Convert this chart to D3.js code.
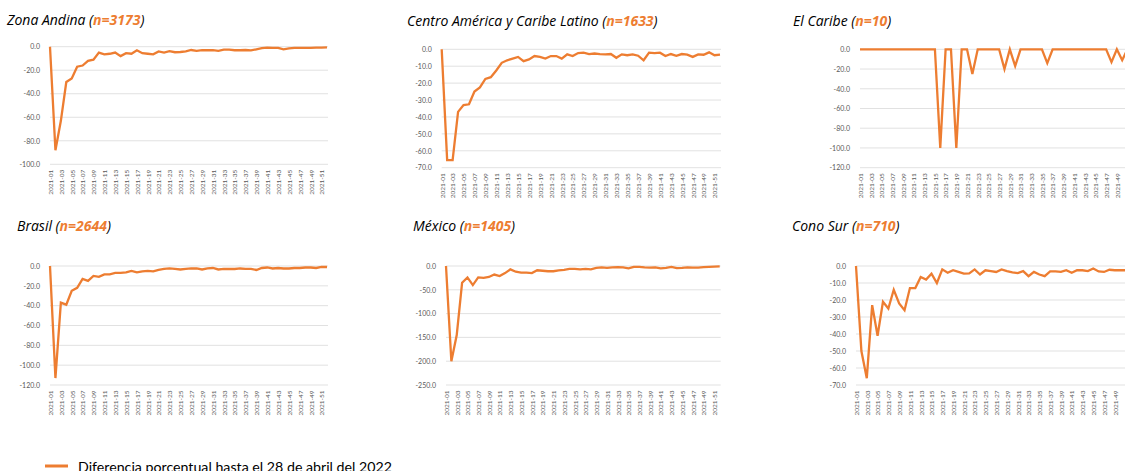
<!DOCTYPE html>
<html>
<head>
<meta charset="utf-8">
<script src="https://cdn.jsdelivr.net/npm/d3@7"></script>
<style>
  body { margin: 0; background: #fff; }
  svg { display: block; }
</style>
</head>
<body>
<script>
// weeks 2021-01 .. 2021-52
var weeks = d3.range(1, 53).map(function(w) { return "2021-" + (w < 10 ? "0" + w : "" + w); });

var regionNames = ["Zona Andina", "Centro América y Caribe Latino", "El Caribe", "Brasil", "México", "Cono Sur"];
var regionN = [3173, 1633, 10, 2644, 1405, 710];

var zonaAndina = [0, -88, -63, -30, -27, -17, -16, -12, -11, -5, -6.5, -6, -5, -8, -5.5, -6, -3, -5.5, -6, -6.5,
  -4, -5, -3.8, -4.7, -4.5, -4, -2.8, -3.5, -3, -3, -3, -3.5, -2.5, -2.5, -3, -3, -2.8, -3.2, -2.2, -1.2,
  -0.8, -1, -1, -2.2, -1.5, -1, -1, -1, -1, -0.8, -0.8, -0.5];
var centroAmerica = [0, -65.5, -65.5, -37, -33, -32.5, -25, -22.5, -17.5, -16.5, -12.5, -8, -6.5, -5.5, -4.5, -7, -6, -4, -4.5, -5.5,
  -4, -4, -5.5, -3, -4, -2.2, -2, -2.8, -2.5, -2.8, -3, -2.8, -5, -3, -3.5, -3, -3.8, -6.5, -2, -2.3,
  -2, -4, -2.8, -3.8, -2.8, -3.2, -4.5, -3, -3.2, -1.8, -3.5, -3.2];
var elCaribe = [0, 0, 0, 0, 0, 0, 0, 0, 0, 0, 0, 0, 0, 0, 0, -100, 0, 0, -100, 0,
  0, -25, 0, 0, 0, 0, 0, -20, 0, -17, 0, 0, 0, 0, 0, -14, 0, 0, 0, 0,
  0, 0, 0, 0, 0, 0, 0, -13, 0, -11, 0, 0];
var brasil = [0, -113, -37, -39, -25, -22, -13, -15, -10, -11, -8.5, -8.5, -7, -7, -6.5, -5, -6.5, -5.5, -5, -5.5,
  -4, -3, -2.5, -3, -3.5, -3, -2.5, -2.5, -3.5, -2.5, -2, -3.5, -3, -3, -3, -2.5, -2.8, -3, -4, -2,
  -1.5, -2.5, -2, -2.5, -2.5, -2, -2, -1.5, -1.5, -2, -1, -1];
var mexico = [0, -200, -145, -35, -24, -40, -24, -25, -23, -18, -21, -15, -7, -12, -14, -14, -15, -9, -10, -11,
  -11, -9, -8, -6, -6, -7, -6, -7, -4, -3, -4, -3, -2.5, -3, -5, -2, -2, -3, -3.5, -3,
  -5, -4, -2, -4.5, -4, -3, -3.5, -3.5, -2.5, -2, -1.5, -1];
var conoSur = [0, -50, -66, -23, -41, -21, -25, -14, -22, -26, -13, -13, -6.5, -8, -4.5, -10, -2, -4, -2.5, -3.5,
  -4.5, -4.3, -2, -5, -2.5, -3, -3.5, -2, -3, -3.8, -4.2, -3, -6, -3.5, -5, -6, -3.2, -3.2, -3.5, -2.5,
  -4, -2.5, -2.5, -3, -1.5, -3.2, -3.5, -2.2, -2.5, -2.5, -2.5, -2];

var seriesList = [zonaAndina, centroAmerica, elCaribe, brasil, mexico, conoSur];
var yMins = [-100, -70, -120, -120, -250, -70];
var yStep = [20, 10, 20, 20, 50, 10];

var legendLabel = "Diferencia porcentual hasta el 28 de abril del 2022";

var orange = "#ED7D31", gray = "#595959", grid = "#d9d9d9";
var font = "Lato, 'Open Sans', sans-serif";
var titleFont = "'Open Sans', sans-serif";

// layout of each small chart (pixels)
var layout = [
  {x0: 50,    x1: 327,    y0: 46.7,  y1: 164.3, tx: 7,   ty: 24.5},
  {x0: 441.7, x1: 720,    y0: 49.3,  y1: 167.7, tx: 407, ty: 26},
  {x0: 860,   x1: 1132.9, y0: 49.3,  y1: 167.7, tx: 793, ty: 26},
  {x0: 50,    x1: 327,    y0: 266,   y1: 385,   tx: 17,  ty: 231},
  {x0: 446,   x1: 719.7,  y0: 266,   y1: 385,   tx: 413, ty: 231},
  {x0: 856,   x1: 1131,   y0: 266,   y1: 385,   tx: 792, ty: 231}
];

var svg = d3.select("body").append("svg")
    .attr("width", 1125)
    .attr("height", 471)
    .style("font-family", font);

seriesList.forEach(function(values, k) {
  var L = layout[k];

  var xScale = d3.scalePoint()
      .domain(weeks)
      .range([L.x0, L.x1]);

  var yScale = d3.scaleLinear()
      .domain([yMins[k], 0])
      .range([L.y1, L.y0]);

  var ticks = d3.range(yMins[k], 0.001, yStep[k]);

  var g = svg.append("g");

  // title
  var title = g.append("text")
      .attr("x", L.tx)
      .attr("y", L.ty)
      .attr("font-family", titleFont)
      .attr("font-size", 14)
      .attr("font-style", "italic")
      .attr("fill", "#000");
  title.append("tspan").text(regionNames[k] + " (");
  title.append("tspan").attr("fill", orange).attr("font-weight", "bold").text("n=" + regionN[k]);
  title.append("tspan").text(")");

  // gridlines
  g.selectAll(".grid")
      .data(ticks)
    .enter().append("line")
      .attr("x1", L.x0)
      .attr("x2", L.x1 + 1)
      .attr("y1", function(d) { return yScale(d); })
      .attr("y2", function(d) { return yScale(d); })
      .attr("stroke", grid)
      .attr("stroke-width", 0.8);

  // y axis labels
  var yAxis = g.append("g")
      .attr("transform", "translate(" + L.x0 + ",0)")
      .call(d3.axisLeft(yScale).tickValues(ticks).tickSize(0).tickPadding(10)
        .tickFormat(function(d) { return d3.format(".1f")(d).replace("−", "-"); }));
  yAxis.select(".domain").remove();
  yAxis.selectAll("text")
      .attr("font-family", font)
      .attr("font-size", 7)
      .attr("fill", gray);

  // x axis labels (every other week, only those inside the page)
  var xTicks = weeks.filter(function(d, i) { return i % 2 === 0 && xScale(d) < 1120; });
  var xAxis = g.append("g")
      .attr("transform", "translate(0," + L.y1 + ")")
      .call(d3.axisBottom(xScale).tickValues(xTicks).tickSize(0));
  xAxis.select(".domain").remove();
  xAxis.selectAll("text")
      .attr("font-family", font)
      .attr("font-size", 6.5)
      .attr("fill", gray)
      .attr("text-anchor", "end")
      .attr("dy", null)
      .attr("transform", "translate(2.3,5.5) rotate(-90)")
      .attr("y", 0)
      .attr("x", 0);

  var line = d3.line()
      .x(function(d, i) { return xScale(weeks[i]); })
      .y(function(d) { return yScale(d); });

  g.append("path")
      .datum(values)
      .attr("d", line)
      .attr("fill", "none")
      .attr("stroke", orange)
      .attr("stroke-width", 2.3)
      .attr("stroke-linejoin", "miter");
});

// legend
svg.append("line")
    .attr("x1", 45).attr("x2", 68)
    .attr("y1", 466).attr("y2", 466)
    .attr("stroke", orange)
    .attr("stroke-width", 3);

svg.append("text")
    .attr("x", 78)
    .attr("y", 471.5)
    .attr("font-size", 13)
    .attr("textLength", 314)
    .attr("lengthAdjust", "spacingAndGlyphs")
    .attr("fill", "#000")
    .text(legendLabel);
</script>
</body>
</html>
